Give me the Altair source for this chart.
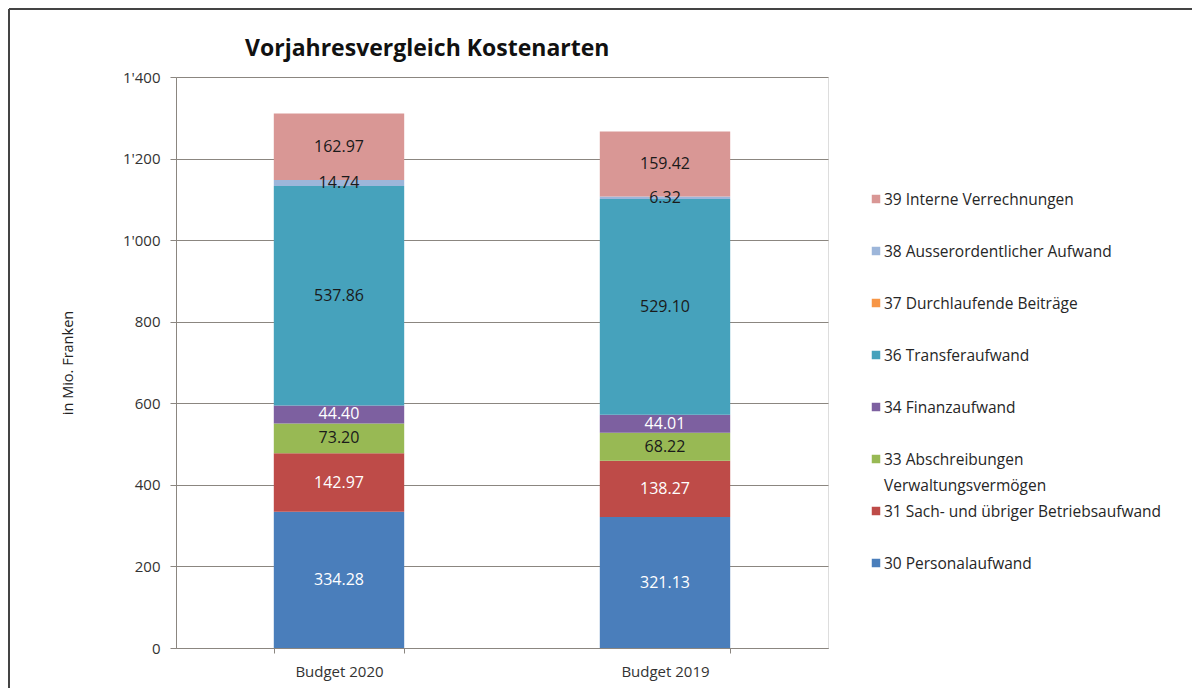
import altair as alt
import pandas as pd

titel = "Vorjahresvergleich Kostenarten"
kategorien = ["Budget 2020", "Budget 2019"]
codes = [30, 31, 33, 34, 36, 37, 38, 39]
kostenarten = [
    "30 Personalaufwand",
    "31 Sach- und übriger Betriebsaufwand",
    "33 Abschreibungen Verwaltungsvermögen",
    "34 Finanzaufwand",
    "36 Transferaufwand",
    "37 Durchlaufende Beiträge",
    "38 Ausserordentlicher Aufwand",
    "39 Interne Verrechnungen",
]
legend_texte = [
    "30 Personalaufwand",
    "31 Sach- und übriger Betriebsaufwand",
    "33 Abschreibungen\nVerwaltungsvermögen",
    "34 Finanzaufwand",
    "36 Transferaufwand",
    "37 Durchlaufende Beiträge",
    "38 Ausserordentlicher Aufwand",
    "39 Interne Verrechnungen",
]
werte_2020 = [334.28, 142.97, 73.20, 44.40, 537.86, 0.0, 14.74, 162.97]
werte_2019 = [321.13, 138.27, 68.22, 44.01, 529.10, 0.0, 6.32, 159.42]
farben = ["#4A7EBB", "#BE4B48", "#98B954", "#7D60A0", "#46A2BC", "#F79646", "#9DB6DA", "#D99795"]
y_ticks = [0, 200, 400, 600, 800, 1000, 1200, 1400]
dunkle_labels = [33, 36, 38, 39]

rows = []
for kat, werte in zip(kategorien, [werte_2020, werte_2019]):
    for c, k, w in zip(codes, kostenarten, werte):
        rows.append({"kategorie": kat, "code": c, "kostenart": k, "wert": w})
df = pd.DataFrame(rows)
legend_df = pd.DataFrame({"kostenart": kostenarten, "text": legend_texte})

font = "Open Sans"
gray = "#8b8680"
legend_order = list(reversed(kostenarten))
legend_colors = list(reversed(farben))
color_scale = alt.Scale(domain=legend_order, range=legend_colors)
y_scale = alt.Scale(domain=[0, 1400], nice=False)

base = alt.Chart(df).transform_stack(
    stack="wert", groupby=["kategorie"], as_=["y0", "y1"],
    sort=[alt.SortField("code", order="ascending")],
).transform_calculate(mid="(datum.y0 + datum.y1) / 2")

bars = base.mark_bar().encode(
    x=alt.X("kategorie:N", sort=kategorien, title=None,
            scale=alt.Scale(paddingInner=0.6, paddingOuter=0.3),
            axis=alt.Axis(labelAngle=0, tickBand="extent", tickSize=5, tickColor=gray,
                          domainColor=gray, labelFontSize=15, labelPadding=11,
                          labelColor="#333333", labelFont=font)),
    y=alt.Y("y0:Q", title="in Mio. Franken", scale=y_scale,
            axis=alt.Axis(values=y_ticks, grid=True, gridColor=gray, gridWidth=1.2,
                          domainColor=gray, tickColor=gray, tickSize=6,
                          labelExpr="replace(format(datum.value, ','), ',', \"'\")",
                          labelFontSize=15, labelPadding=10, labelColor="#333333",
                          labelFont=font, titleFont=font, titleFontSize=14.5,
                          titleFontWeight="normal", titleColor="#222222", titlePadding=47)),
    y2="y1:Q",
    color=alt.Color("kostenart:N", scale=color_scale, legend=None),
    order=alt.Order("code:Q"),
)

texts = base.transform_filter("datum.wert > 0").mark_text(
    font=font, fontSize=16, baseline="middle", align="center"
).encode(
    x=alt.X("kategorie:N", sort=kategorien),
    y=alt.Y("mid:Q", scale=y_scale, axis=None),
    text=alt.Text("wert:Q", format=".2f"),
    color=alt.condition(
        alt.FieldOneOfPredicate(field="code", oneOf=dunkle_labels),
        alt.value("#1a1a1a"), alt.value("#ffffff")),
)

legend_y = alt.Y("kostenart:N", sort=legend_order,
                 scale=alt.Scale(type="point", range=[122, 486], padding=0), axis=None)
legend_sym = alt.Chart(legend_df).mark_square(size=72, opacity=1).encode(
    x=alt.value(700), y=legend_y,
    color=alt.Color("kostenart:N", scale=color_scale, legend=None))
legend_txt = alt.Chart(legend_df).mark_text(
    font=font, fontSize=15.5, align="left", baseline="alphabetic", dy=5.5,
    lineBreak="\n", lineHeight=26, color="#262626").encode(
    x=alt.value(708), y=legend_y, text="text:N")

frame_df = pd.DataFrame({"f": [0]})
frame_top = alt.Chart(frame_df).mark_rule(color="#444444", strokeWidth=2).encode(
    x=alt.value(-167), x2=alt.value(1016), y=alt.value(-68))
frame_left = alt.Chart(frame_df).mark_rule(color="#444444", strokeWidth=2).encode(
    x=alt.value(-167), y=alt.value(-68), y2=alt.value(611))
title_mark = alt.Chart(pd.DataFrame({"t": [titel]})).mark_text(
    font=font, fontSize=23, fontWeight="bold", align="left", baseline="alphabetic",
    color="#111111").encode(x=alt.value(69), y=alt.value(-21), text="t:N")

chart = alt.layer(bars, texts, legend_sym, legend_txt, frame_top, frame_left, title_mark).resolve_scale(
    y="independent"
).properties(
    width=652, height=571,
    autosize=alt.AutoSizeParams(type="none"),
    padding={"left": 168, "top": 69, "right": 364, "bottom": 40},
).configure_view(stroke=None).configure(background="white")

chart.save("out.html", embed_options={"renderer": "svg", "actions": False})
